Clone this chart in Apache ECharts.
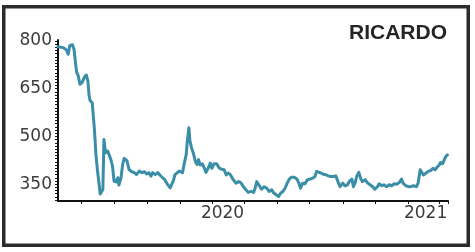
<!DOCTYPE html>
<html><head><meta charset="utf-8">
<script src="https://cdn.jsdelivr.net/npm/echarts@6/dist/echarts.min.js"></script>
<style>html,body{margin:0;padding:0;background:#fff}#c{width:475px;height:252px}</style>
</head><body><div id="c"></div>
<script>
const chartTitle = 'RICARDO';
// days since 18 March 2019
const dayOffsets = [0,10,16,19,22,27,30,33,35,38,41,45,49,53,56,58,60,64,68,71,74,77,79,82,84,86,89,93,96,99,102,105,109,112,114,118,121,124,129,133,138,143,147,152,157,162,166,170,174,177,182,187,191,196,200,205,210,213,216,219,222,227,230,233,236,240,242,245,247,250,253,257,260,263,266,270,274,277,281,285,288,292,297,302,306,311,315,319,323,328,333,338,342,347,352,356,361,366,369,372,375,378,381,386,391,395,400,404,409,413,417,421,425,429,433,437,442,447,451,454,458,462,467,472,477,481,484,487,492,497,502,506,510,515,520,524,528,533,537,542,545,550,553,556,559,563,567,570,575,579,584,589,593,598,601,606,610,615,620,625,629,634,639,643,646,651,656,660,665,671,674,678,681,684,689,693,698,702,706,710,714,716,720,723,726,729];
const values = [782,779,771,758,785,788,774,727,701,690,664,669,685,693,674,632,613,606,527,443,391,349,319,322,333,490,449,454,449,427,407,359,357,370,347,370,412,431,424,396,389,386,380,391,386,389,382,386,375,386,380,386,378,370,364,349,338,344,361,380,378,391,396,386,412,443,485,527,485,464,449,422,412,427,410,414,400,387,400,416,400,414,414,400,397,395,379,385,379,364,353,358,355,342,332,324,327,324,337,358,361,342,334,342,337,327,332,322,316,311,322,327,337,353,366,372,372,366,353,337,353,351,364,366,369,374,390,387,385,381,379,376,374,374,376,358,342,353,345,348,358,366,342,353,374,387,366,358,364,355,348,342,334,342,351,345,348,342,348,345,351,350,355,366,353,345,342,342,345,342,353,395,400,379,385,390,393,400,395,404,411,418,414,427,437,442];
const yLabelValues = [350, 500, 650, 800];
const xStart = '2019-03-18';
const xEnd = '2021-03-17';
const xTickDates = ['2019-05-01','2019-07-01','2019-09-01','2019-11-01','2020-01-01','2020-03-01','2020-05-01','2020-07-01','2020-09-01','2020-11-01','2021-01-01','2021-03-01','2021-03-17'];
const xLabelDates = ['2020-01-20','2021-02-03'];
const xLabelTexts = ['2020','2021'];

function utc(s){ const p = s.split('-').map(Number); return Date.UTC(p[0], p[1]-1, p[2]); }
function dayOf(s){ return Math.round((utc(s) - utc(xStart)) / 86400000); }

const yTicks = [];
for (let v = 300; v <= 800; v += 10) yTicks.push(v);
const xLabelDays = xLabelDates.map(dayOf);

const chart = echarts.init(document.getElementById('c'), null, {renderer:'canvas'});
chart.setOption({
  backgroundColor: '#fff',
  animation: false,
  title: {
    text: chartTitle, right: 23, top: 18,
    textStyle: {fontFamily: 'Liberation Sans', fontWeight: 'bold', fontSize: 21, color: '#252525'}
  },
  grid: {left: 58, right: 27, top: 40, bottom: 51, containLabel: false, outerBoundsMode: 'none'},
  xAxis: {
    type: 'value',
    min: 0, max: dayOf(xEnd),
    axisLine: {show: true, lineStyle: {color: '#111', width: 2}},
    axisTick: {show: true, length: 3, lineStyle: {color: '#111', width: 1}, customValues: xTickDates.map(dayOf)},
    axisLabel: {
      customValues: xLabelDays, margin: 4,
      fontFamily: 'DejaVu Sans', fontSize: 17, color: '#3c3c3c',
      formatter: function(v){ const i = xLabelDays.indexOf(Math.round(v)); return i >= 0 ? xLabelTexts[i] : ''; }
    },
    splitLine: {show: false}
  },
  yAxis: {
    type: 'value', min: 297, max: 803,
    axisLine: {show: true, lineStyle: {color: '#111', width: 2}},
    axisTick: {show: true, length: 3, lineStyle: {color: '#111', width: 1}, customValues: yTicks},
    axisLabel: {customValues: yLabelValues, margin: 6, fontFamily: 'DejaVu Sans', fontSize: 17, color: '#3c3c3c'},
    splitLine: {show: false}
  },
  series: [{
    type: 'line', showSymbol: false, smooth: false,
    data: dayOffsets.map((d, i) => [d, values[i]]),
    lineStyle: {color: '#3a8ea8', width: 3, join: 'round', cap: 'round'}
  }],
  graphic: [{
    type: 'rect', silent: true,
    shape: {x: 3.75, y: 6.75, width: 464.5, height: 238.5},
    style: {fill: 'none', stroke: '#2b2b2b', lineWidth: 3.5}
  }]
});
</script></body></html>
